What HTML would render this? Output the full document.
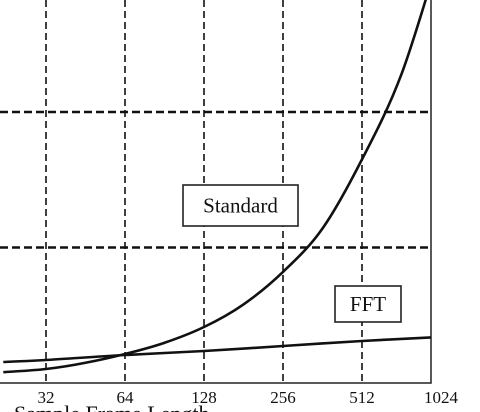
<!DOCTYPE html>
<html><head><meta charset="utf-8"><style>
html,body{margin:0;padding:0;background:#fff;width:480px;height:412px;overflow:hidden}
svg{display:block;font-family:"Liberation Serif",serif;overflow:hidden}
</style></head><body>
<svg id="chart" width="480" height="412" viewBox="0 0 480 412"></svg>
<script>
const xTicks=[32,64,128,256,512,1024];
const yGrid=[100,200];
const sampleX=[22,32,45,64,90,128,181,256,362,512,724,1024];
const standardVals=[8,10.3,14.8,21.4,29.5,41.3,58,82,114,165,228,320];
const fftX=[22,32,64,128,256,512,1024];
const fftVals=[15.5,17,20.7,23.6,27.3,31,34];
const NS="http://www.w3.org/2000/svg";
const svg=document.getElementById('chart');
function X(v){return 46+79*(Math.log2(v)-5);}
function Y(v){return 383-1.355*v;}
function mk(t,a,p){const e=document.createElementNS(NS,t);for(const k in a)e.setAttribute(k,a[k]);(p||svg).appendChild(e);return e;}
const defs=mk('defs',{});
const cp=mk('clipPath',{id:'plot'},defs);
mk('rect',{x:0,y:0,width:431,height:383},cp);
const cp2=mk('clipPath',{id:'frame'},defs);
mk('rect',{x:0,y:0,width:480,height:412},cp2);
xTicks.slice(0,-1).forEach(v=>{
 const l=mk('line',{x1:X(v),x2:X(v),y1:0,y2:383,stroke:'#111','stroke-width':1.6,'stroke-dasharray':'7 4'});
 
 
});
yGrid.forEach(v=>{
 const l=mk('line',{x1:0,x2:431,y1:Y(v),y2:Y(v),stroke:'#111','stroke-width':2.6,'stroke-dasharray':'8 4'});
 
 
});
const ax=mk('path',{d:'M0 383 H431 V0',fill:'none',stroke:'#222','stroke-width':1.5});


xTicks.forEach(v=>{
 const t=mk('text',{x:X(v),y:403,'text-anchor':'middle','font-size':17,fill:'#111'});
 t.textContent=v;
 
 
});
const at=mk('text',{x:14,y:421,'font-size':22,fill:'#111','clip-path':'url(#frame)'});
at.textContent='Sample Frame Length';


function line(xs,vs,name){
 const P=xs.map((x,i)=>[X(x),Y(vs[i])]);
 let d='M'+P[0][0].toFixed(1)+' '+P[0][1].toFixed(1);
 for(let i=0;i<P.length-1;i++){
  const p0=P[Math.max(0,i-1)],p1=P[i],p2=P[i+1],p3=P[Math.min(P.length-1,i+2)];
  const c1=[p1[0]+(p2[0]-p0[0])/6,p1[1]+(p2[1]-p0[1])/6];
  const c2=[p2[0]-(p3[0]-p1[0])/6,p2[1]-(p3[1]-p1[1])/6];
  d+='C'+c1[0].toFixed(1)+' '+c1[1].toFixed(1)+' '+c2[0].toFixed(1)+' '+c2[1].toFixed(1)+' '+p2[0].toFixed(1)+' '+p2[1].toFixed(1);
 }
 const p=mk('path',{d:d,fill:'none',stroke:'#111','stroke-width':2.6,'stroke-linejoin':'round','clip-path':'url(#plot)'});
 
 
}
line(sampleX,standardVals,'standard-line');
line(fftX,fftVals,'fft-line');
function label(x,y,w,h,txt,name){
 const g=mk('g',{});
 
 
 mk('rect',{x:x,y:y,width:w,height:h,fill:'#fff',stroke:'#222','stroke-width':1.6},g);
 const t=mk('text',{x:x+w/2,y:y+h/2+7,'text-anchor':'middle','font-size':21,fill:'#111'},g);
 t.textContent=txt;
}
label(183,185,115,41,'Standard','standard-label');
label(335,286,66,36,'FFT','fft-label');
</script>
</body></html>
